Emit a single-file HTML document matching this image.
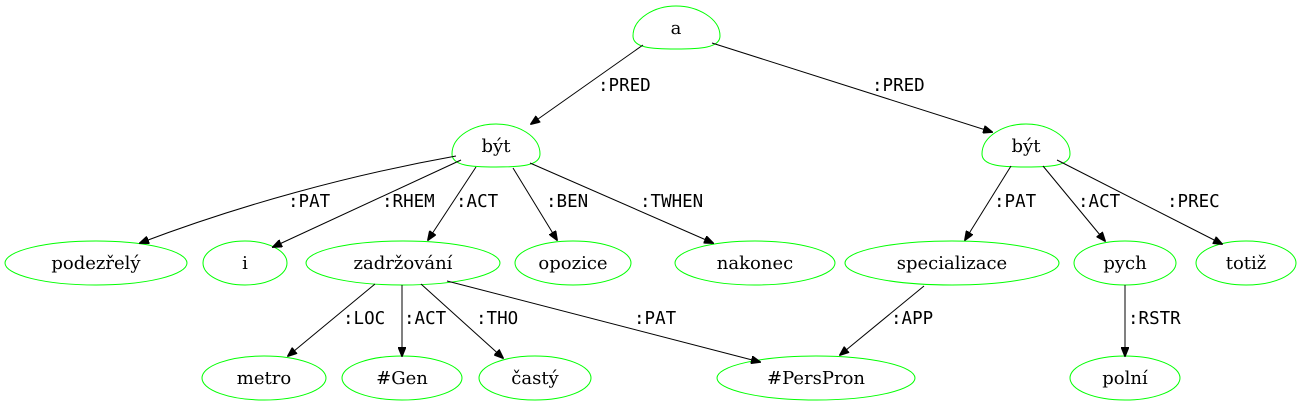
<!DOCTYPE html>
<html><head><meta charset="utf-8"><style>
html,body{margin:0;padding:0;background:#fff;}
svg{display:block}
.n{fill:none;stroke:#00ff00;stroke-width:1}
.t{font-family:"DejaVu Serif",serif;font-size:18px;text-anchor:middle;fill:#000}
.l{font-family:"DejaVu Sans Mono",monospace;font-size:17.5px;fill:#000}
.e{stroke:#000;stroke-width:1;fill:none;marker-end:url(#ah)}
</style></head><body>
<svg width="1303" height="407" viewBox="0 0 1303 407" xmlns="http://www.w3.org/2000/svg">
<defs><marker id="ah" markerWidth="10" markerHeight="8" refX="9" refY="4" orient="auto" markerUnits="userSpaceOnUse"><path d="M0,0 L10,4 L0,8 Z" fill="#000" stroke="#000"/></marker></defs>
<path class="n" d="M633,36 C633,18 655,6 676,6 C697,6 720,18 720,36 C720,48 700,49 676,49 C652,49 633,48 633,36 Z"/>
<text class="t" x="676" y="34">a</text>
<path class="n" d="M452,154 C452,136 474,124 496,124 C518,124 540,136 540,154 C540,166 520,167 496,167 C472,167 452,166 452,154 Z"/>
<text class="t" x="496" y="152">být</text>
<path class="n" d="M982,154 C982,136 1004,124 1026,124 C1048,124 1070,136 1070,154 C1070,166 1050,167 1026,167 C1002,167 982,166 982,154 Z"/>
<text class="t" x="1026" y="152">být</text>
<ellipse class="n" cx="96" cy="263" rx="91" ry="22"/><text class="t" x="96" y="269">podezřelý</text>
<ellipse class="n" cx="245" cy="263" rx="42" ry="22"/><text class="t" x="245" y="269">i</text>
<ellipse class="n" cx="403" cy="263" rx="97" ry="22"/><text class="t" x="403" y="269">zadržování</text>
<ellipse class="n" cx="573" cy="263" rx="58" ry="22"/><text class="t" x="573" y="269">opozice</text>
<ellipse class="n" cx="755" cy="263" rx="80" ry="22"/><text class="t" x="755" y="269">nakonec</text>
<ellipse class="n" cx="952" cy="263" rx="107" ry="22"/><text class="t" x="952" y="269">specializace</text>
<ellipse class="n" cx="1125" cy="263" rx="51" ry="22"/><text class="t" x="1125" y="269">pych</text>
<ellipse class="n" cx="1246" cy="263" rx="50" ry="22"/><text class="t" x="1246" y="269">totiž</text>
<ellipse class="n" cx="264" cy="378" rx="62" ry="22"/><text class="t" x="264" y="384">metro</text>
<ellipse class="n" cx="402" cy="378" rx="60" ry="22"/><text class="t" x="402" y="384">#Gen</text>
<ellipse class="n" cx="535" cy="378" rx="56" ry="22"/><text class="t" x="535" y="384">častý</text>
<ellipse class="n" cx="816" cy="378" rx="99" ry="22"/><text class="t" x="816" y="384">#PersPron</text>
<ellipse class="n" cx="1125" cy="378" rx="55" ry="22"/><text class="t" x="1125" y="384">polní</text>
<line class="e" x1="643" y1="45" x2="531" y2="124"/><text class="l" x="598" y="91">:PRED</text>
<line class="e" x1="712" y1="43" x2="992" y2="132"/><text class="l" x="872" y="91">:PRED</text>
<path class="e" d="M456,156 C350,175 240,205 140,243"/><text class="l" x="288" y="207">:PAT</text>
<line class="e" x1="461" y1="160" x2="273" y2="247"/><text class="l" x="382" y="207">:RHEM</text>
<line class="e" x1="476" y1="167" x2="428" y2="240"/><text class="l" x="456" y="207">:ACT</text>
<line class="e" x1="513" y1="168" x2="557" y2="240"/><text class="l" x="546" y="207">:BEN</text>
<line class="e" x1="530" y1="163" x2="713" y2="243"/><text class="l" x="640" y="207">:TWHEN</text>
<line class="e" x1="1011" y1="166" x2="965" y2="240"/><text class="l" x="994" y="207">:PAT</text>
<line class="e" x1="1043" y1="166" x2="1105" y2="241"/><text class="l" x="1078" y="207">:ACT</text>
<line class="e" x1="1057" y1="160" x2="1222" y2="244"/><text class="l" x="1167" y="207">:PREC</text>
<line class="e" x1="375" y1="284" x2="288" y2="356"/><text class="l" x="343" y="324">:LOC</text>
<line class="e" x1="402" y1="285" x2="402" y2="356"/><text class="l" x="404" y="324">:ACT</text>
<line class="e" x1="421" y1="284" x2="503" y2="358"/><text class="l" x="476" y="324">:THO</text>
<line class="e" x1="447" y1="281" x2="760" y2="362"/><text class="l" x="634" y="324">:PAT</text>
<line class="e" x1="924" y1="286" x2="840" y2="355"/><text class="l" x="891" y="324">:APP</text>
<line class="e" x1="1125" y1="285" x2="1125" y2="356"/><text class="l" x="1128" y="324">:RSTR</text>
</svg>
</body></html>
